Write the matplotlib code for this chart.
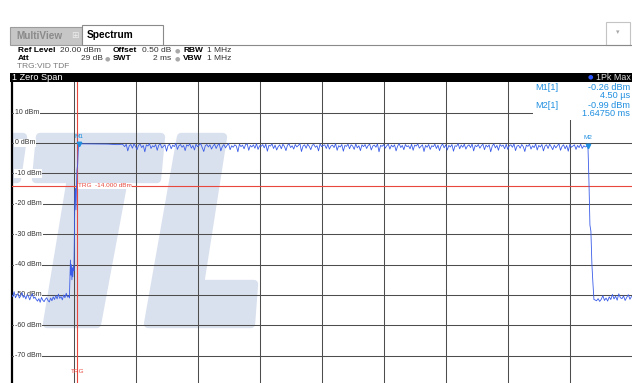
import numpy as np
import matplotlib.pyplot as plt
from matplotlib.patches import Polygon, Rectangle
import matplotlib.transforms as mtransforms

plt.rcParams['font.family'] = ['Liberation Sans', 'DejaVu Sans']

# ---- instrument settings / readouts ----
ref_level = 20.0
db_per_div = 10
sweep_time = 2.0          # ms
x_left = -0.212           # ms, left edge of the screen
trg_level = -14.0
grid_levels = [10, 0, -10, -20, -30, -40, -50, -60, -70]

m1_time, m1_level = 0.0045, -0.26
m2_time, m2_level = 1.6475, -0.99

# ---- trace (dBm) ----
pre_level = [-49.8, -50.6, -48.9, -50.9, -50.1, -49.5, -51.0, -50.3, -49.2, -50.8,
             -50.2, -51.3, -49.9, -50.5, -51.6, -50.4, -49.6, -51.1, -50.7, -51.5,
             -52.0, -51.2, -52.4, -50.8, -51.7, -52.2, -51.4, -50.9, -51.8, -52.3,
             -51.0, -51.9, -50.6, -51.5, -50.2, -51.3, -49.7, -51.1, -50.5, -51.6,
             -50.0, -50.9, -49.4, -50.7, -50.3]

rise_time = [-0.0252, -0.0235, -0.0219, -0.0203, -0.0187, -0.0171, -0.0155, -0.0139,
             -0.0122, -0.0106, -0.0090, -0.0074, -0.0058, -0.0042, -0.0026, -0.0010,
             0.0015, 0.0030]
rise_level = [-51.0, -44.0, -38.5, -43.5, -40.0, -45.0, -41.0, -44.0,
              -40.5, -42.0, -30.0, -16.0, -15.0, -22.0, -15.5, -9.0,
              -7.0, -3.0]

plateau_level = [-0.26, -0.28, -0.30, -0.32, -0.33, -0.35, -0.36, -0.45, -0.55, -0.40]

burst_level = [
    -0.6, -1.2, -0.4, -2.6, -0.9, -0.5, -1.7, -0.3, -1.1, -2.2,
    -0.7, -0.4, -1.5, -0.8, -2.9, -0.6, -1.0, -0.2, -1.8, -0.9,
    -1.3, -0.5, -2.4, -0.7, -0.3, -1.6, -1.1, -0.6, -2.7, -0.8,
    -0.4, -1.9, -0.7, -1.2, -0.1, -2.1, -0.9, -0.5, -1.4, -0.8,
    -2.5, -0.6, -1.0, -0.3, -1.7, -0.8, -2.3, -0.4, -1.2, -0.7,
    -0.2, -1.5, -2.8, -0.9, -0.5, -1.3, -0.6, -2.0, -1.0, -0.4,
    -1.8, -0.7, -0.3, -2.6, -1.1, -0.5, -1.6, -0.8, -0.2, -2.2,
    -0.9, -1.4, -0.6, -1.0, -2.9, -0.4, -1.2, -0.7, -1.9, -0.5,
    -0.3, -2.4, -0.8, -1.3, -0.6, -1.7, -0.2, -2.1, -0.9, -1.1,
    -0.5, -1.6, -0.4, -2.7, -0.8, -1.0, -0.3, -1.8, -0.7, -2.3,
    -1.2, -0.6, -1.9, -0.4, -1.1, -2.5, -0.7, -0.3, -1.5, -0.9,
    -2.0, -0.5, -1.3, -0.8, -0.2, -2.8, -1.0, -0.6, -1.7, -0.4,
    -1.1, -2.2, -0.7, -0.5, -1.4, -0.9, -2.6, -0.3, -1.2, -0.8,
    -0.6, -1.8, -0.4, -2.0, -1.0, -0.7, -1.5, -0.2, -2.4, -0.9,
    -1.3, -0.5, -2.7, -0.8, -1.1, -0.4, -1.9, -0.6, -1.0, -2.1,
    -0.3, -1.6, -0.9, -2.5, -0.6, -1.2, -0.5, -1.8, -0.8, -0.4,
    -2.3, -1.0, -0.7, -1.4, -0.3, -2.9, -0.8, -1.1, -0.5, -1.7,
    -0.9, -0.4, -2.0, -0.7, -1.3, -0.6, -2.6, -1.0, -0.2, -1.5,
    -0.8, -2.2, -0.5, -1.2, -0.9, -1.9, -0.4, -2.4, -0.7, -1.0,
    -0.3, -1.7, -1.1, -0.6, -2.8, -0.8, -1.4, -0.5, -2.1, -0.9,
    -1.2, -0.4, -1.8, -0.7, -2.5, -1.0, -0.3, -1.6, -0.6, -2.3,
    -0.8, -1.3, -0.5, -2.7, -0.9, -1.1, -0.2, -1.9, -0.7, -1.4,
    -0.4, -2.0, -1.0, -0.6, -1.5, -0.3, -2.6, -0.8, -1.2, -0.5,
    -1.7, -0.9, -0.4, -2.2, -0.7, -1.3, -0.6, -2.9, -1.0, -0.3,
    -1.6, -0.8, -2.4, -0.5, -1.1, -0.7, -1.9, -0.4, -2.1, -0.9,
    -0.6, -1.4, -0.3, -2.5, -1.0, -0.8, -1.7, -0.5, -1.2, -2.8,
    -0.7, -1.1, -0.4, -2.0, -0.9, -1.5, -0.3, -2.3, -0.8, -1.3,
    -0.5, -2.6, -1.0, -0.6, -1.8, -0.4, -1.2, -2.2, -0.7, -1.6,
    -0.9, -0.3, -2.4, -1.1, -0.6, -1.9, -0.8, -2.7, -0.5, -1.4,
    -1.0, -0.6, -2.1, -0.8, -1.5, -0.4, -1.8, -0.9, -1.3, -1.1]

fall_time = [1.6506, 1.6539, 1.6570, 1.6603, 1.6635, 1.6668]
fall_level = [-12.0, -27.0, -29.0, -40.0, -46.0, -51.5]

post_level = [-51.6, -51.9, -51.2, -52.1, -51.4, -50.2, -51.8, -51.0, -52.0, -50.6,
              -51.5, -49.8, -51.3, -50.4, -51.7, -49.6, -50.9, -51.2, -50.3, -51.8,
              -50.8, -49.9, -51.4, -50.5]

# sample times of each segment (sweep grid)
pre_time = np.linspace(x_left, -0.027, len(pre_level))
plateau_time = np.linspace(m1_time, 0.145, len(plateau_level))
burst_time = np.linspace(0.148, 1.644, len(burst_level))
post_time = np.linspace(1.670, x_left + sweep_time, len(post_level))

t = np.concatenate([pre_time, rise_time, plateau_time, burst_time, [m2_time], fall_time, post_time])
lvl = np.concatenate([pre_level, rise_level, plateau_level, burst_level, [m2_level], fall_level, post_level])

# ---- figure, drawn in screen pixels ----
W, H = 632, 383
fig = plt.figure(figsize=(W / 100, H / 100), dpi=100)
fig.patch.set_facecolor('white')

def fx(x):
    return x / W

def fy(y):
    return 1 - y / H

def rect(x0, y0, x1, y1, **kw):
    r = Rectangle((fx(x0), fy(y1)), (x1 - x0) / W, (y1 - y0) / H,
                  transform=fig.transFigure, **kw)
    fig.add_artist(r)
    return r

def ftext(x, y, s, **kw):
    kw.setdefault('va', 'center')
    kw.setdefault('fontsize', 6)
    fig.text(fx(x), fy(y), s, **kw)

# tabs
rect(10, 27, 82, 45, facecolor='#c6c6c6', edgecolor='#9c9c9c', lw=0.8)
ftext(16, 36, 'MultiView', fontweight='bold', color='#8a8a8a', fontsize=7.2)
ftext(71, 36, '\u229e', color='#ececec', fontsize=6.5)
rect(82, 25, 163, 45, facecolor='white', edgecolor='#8a8a8a', lw=0.8)
ftext(87, 35, 'Spectrum', fontweight='bold', color='black', fontsize=7.3)
fig.add_artist(plt.Line2D([fx(163), fx(632)], [fy(44.5), fy(44.5)],
                          transform=fig.transFigure, color='#8a8a8a', lw=0.8))
rect(606, 22, 630, 45, facecolor='white', edgecolor='#c4c4c4', lw=0.8)
ftext(618, 33, '\u25be', color='#a8a8a8', fontsize=5, ha='center')

# settings block
dot = dict(color='#a8a8a8', fontsize=4.5, ha='center', family='DejaVu Sans')
ftext(18, 50.5, 'Ref Level', fontweight='bold')
ftext(60, 50.5, '20.00 dBm', color='#333333')
ftext(113, 50.5, 'Offset', fontweight='bold')
ftext(142, 50.5, '0.50 dB', color='#333333')
ftext(177, 50.5, '\u25cf', **dot)
ftext(183, 50.5, 'RBW', fontweight='bold')
ftext(207, 50.5, '1 MHz', color='#333333')
ftext(18, 59, 'Att', fontweight='bold')
ftext(103, 59, '29 dB', color='#333333', ha='right')
ftext(107.5, 59, '\u25cf', **dot)
ftext(113, 59, 'SWT', fontweight='bold')
ftext(171, 59, '2 ms', color='#333333', ha='right')
ftext(177, 59, '\u25cf', **dot)
ftext(183, 59, 'VBW', fontweight='bold')
ftext(207, 59, '1 MHz', color='#333333')
ftext(17, 67, 'TRG:VID TDF', color='#7a7a7a')

# title bar
rect(10, 72.5, 632, 81.5, facecolor='black', edgecolor='none')
ftext(12, 77, '1 Zero Span', color='white', fontsize=6.6)
ftext(590, 77, '\u25cf', color='#2a55ff', fontsize=4.5, ha='center', family='DejaVu Sans')
ftext(596, 77, '1Pk Max', color='#dcdcdc', fontsize=6.4)

# ---- diagram area ----
top_px, bot_px = 82.2, 386.2
ax = fig.add_axes([fx(11.5), fy(bot_px), 620 / W, (bot_px - top_px) / H])
ax.set_xlim(x_left, x_left + sweep_time)
ax.set_ylim(ref_level - 10 * db_per_div, ref_level)
ax.set_xticks(x_left + np.arange(1, 10) * sweep_time / 10)
ax.set_yticks(grid_levels)
ax.tick_params(length=0, labelbottom=False, labelleft=False)
ax.set_axisbelow(False)
ax.grid(True, color='#4d4d4d', lw=0.75)
for side in ['top', 'right', 'bottom']:
    ax.spines[side].set_visible(False)
ax.spines['left'].set_linewidth(1.6)
ax.spines['left'].set_color('black')
ax.patch.set_alpha(0)

# background watermark (pixel polygons)
wm = '#dae1ee'
shapes = [
    [(-10, 137), (23, 137), (17, 179), (-10, 179)],
    [(-10, 284), (4, 284), (1, 324), (-10, 324)],
    [(40, 137), (161, 137), (157, 179), (36, 179)],
    [(71, 179), (124, 179), (97, 324), (47, 324)],
    [(181, 137), (223, 137), (200, 284), (254, 284), (251, 324), (148, 324)],
]
for pts in shapes:
    poly = Polygon([(fx(x), fy(y)) for x, y in pts], closed=True, transform=fig.transFigure,
                   facecolor=wm, edgecolor=wm, lw=6, joinstyle='round', zorder=0.5)
    ax.add_patch(poly)

# level labels on the grid
lab_tr = mtransforms.blended_transform_factory(ax.transAxes, ax.transData)
for lv in grid_levels:
    ax.text(3.5 / 620, lv, f'{lv} dBm', transform=lab_tr, fontsize=5, color='#333333',
            va='center', ha='left', zorder=2.6,
            bbox=dict(facecolor='white', edgecolor='none', pad=0.6))

# trigger lines
red = '#e8473d'
ax.axvline(0, color=red, lw=0.8, zorder=2.7)
ax.axhline(trg_level, color=red, lw=0.8, zorder=2.7)
ax.text(0.003, trg_level, 'TRG  -14.000 dBm', color=red, fontsize=4.6, va='center',
        ha='left', zorder=2.8, bbox=dict(facecolor='white', edgecolor='none', pad=0.3))
ax.text(0, -75.1, 'TRG', color=red, fontsize=4.6, va='center', ha='center', zorder=2.8)

# trace
ax.plot(t, lvl, color='#3a5ce8', lw=0.6, zorder=3)

# markers
mk = '#1f8fe0'
ax.plot([m1_time, m2_time], [m1_level, m2_level], 'v', color=mk, ms=3.2, zorder=4)
ax.text(m1_time, 2.2, 'M1', color=mk, fontsize=4.6, ha='center', va='center', zorder=4)
ax.text(m2_time, 1.8, 'M2', color=mk, fontsize=4.6, ha='center', va='center', zorder=4)

# marker table
rect(533, 82.2, 632, 120, facecolor='white', edgecolor='none', zorder=2)
ftext(535, 87, 'M1[1]', color=mk, fontsize=6.6, zorder=3)
ftext(630, 87, f'{m1_level:.2f} dBm', color=mk, fontsize=6.6, ha='right', zorder=3)
ftext(630, 95, f'{m1_time * 1000:.2f} \u00b5s', color=mk, fontsize=6.6, ha='right', zorder=3)
ftext(535, 105, 'M2[1]', color=mk, fontsize=6.6, zorder=3)
ftext(630, 105, f'{m2_level:.2f} dBm', color=mk, fontsize=6.6, ha='right', zorder=3)
ftext(630, 114, f'{m2_time:.5f} ms', color=mk, fontsize=6.6, ha='right', zorder=3)

fig.savefig('out.png', dpi=100)
